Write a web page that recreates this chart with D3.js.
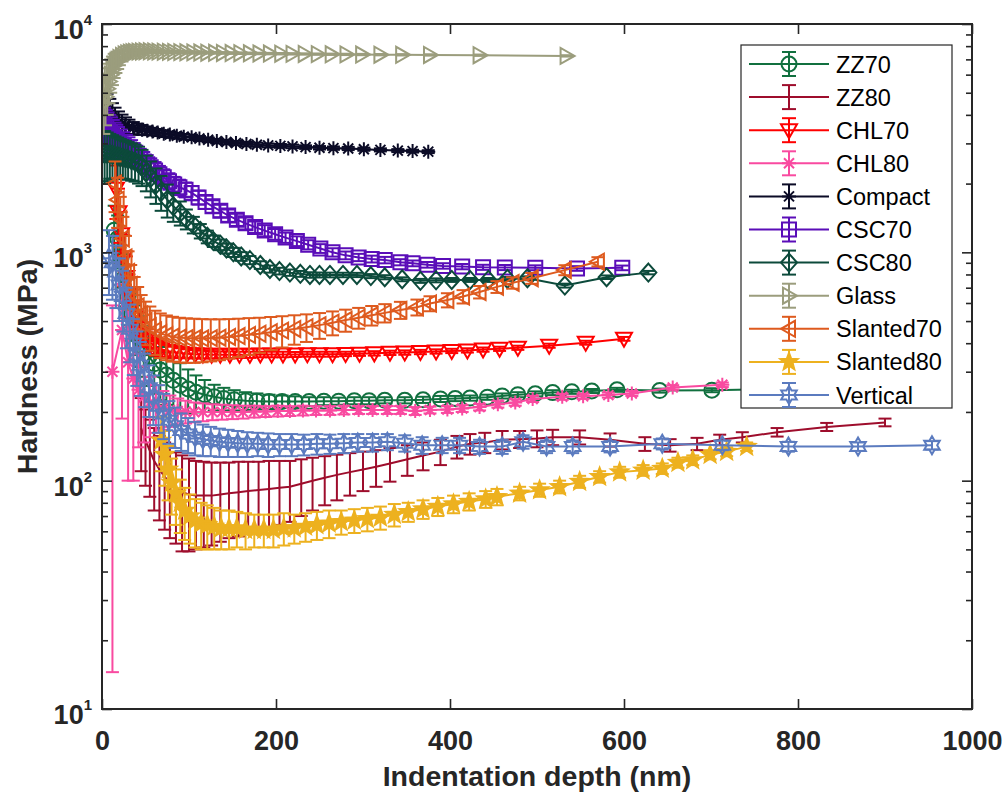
<!DOCTYPE html>
<html><head><meta charset="utf-8">
<script src="https://cdn.jsdelivr.net/npm/d3@7"></script>
<style>body{margin:0;background:#fff} svg{display:block} text{font-family:"Liberation Sans",Arial,sans-serif}</style>
</head><body><svg id="c" width="1008" height="796"></svg>
<script>
// ---------- data ----------
const xTicks = [0, 200, 400, 600, 800, 1000];
const yTicks = [10, 100, 1000, 10000];
const yTickExp = ["1", "2", "3", "4"];
const xLabel = "Indentation depth (nm)";
const yLabel = "Hardness (MPa)";
const seriesNames = ["ZZ70","ZZ80","CHL70","CHL80","Compact","CSC70","CSC80","Glass","Slanted70","Slanted80","Vertical"];
const seriesColors = ["#11703F","#9E0D2C","#FF0000","#F94AA0","#0B0B26","#5A0DB8","#0C4A3B","#9B9D7D","#DE5A1E","#EDB11F","#5B7BBF"];
const seriesMarkers = ["o","none","v","*","*","s","d",">","<","p","h"];

// [depth nm, hardness MPa, error ±MPa]
const ZZ70 = [[14,1250,350],[18,1150,300],[22,950,250],[26,780,200],[30,640,160],[34,540,130],[38,470,115],[43,420,105],[48,380,95],[54,350,90],[60,325,85],[67,305,80],[74,290,75],[82,275,70],[90,262,65],[99,252,55],[108,244,45],[118,238,38],[129,233,30],[140,229,26],[152,226,23],[165,224,20],[178,223,18],[192,222,16],[207,222,14],[222,222,12],[238,222,10],[255,223,9],[272,223,8],[290,224,8],[307,224,8],[325,225,7],[348,225,7],[369,226,7],[389,228,7],[406,229,6],[423,230,6],[443,232,6],[460,235,6],[478,238,6],[498,240,6],[518,243,6],[540,245,5],[563,247,5],[592,250,5],[641,248,5],[701,249,5],[780,252,5]];
const ZZ80 = [[45,170,60],[50,150,55],[55,135,50],[60,122,48],[66,112,45],[72,104,43],[78,98,42],[85,93,40],[92,89,40],[100,87,38],[108,86,36],[117,86,35],[126,86,34],[136,87,33],[146,88,32],[157,89,32],[168,90,31],[180,91,30],[192,92,30],[204,93,29],[216,94,28],[229,97,27],[242,100,26],[256,103,25],[270,106,24],[285,109,23],[300,112,22],[315,115,21],[331,119,20],[351,124,19],[369,129,18],[389,134,17],[408,141,16],[423,145,15],[440,147,15],[460,151,14],[480,152,13],[500,153,13],[518,155,12],[549,155,11],[584,151,10],[624,145,10],[653,143,9],[684,145,9],[710,151,8],[736,155,8],[776,163,7],[833,172,7],[900,180,7]];
const CHL70 = [[16,1900,500],[19,1500,400],[22,1200,300],[25,950,240],[28,780,180],[31,660,140],[34,580,110],[38,520,90],[42,475,70],[46,440,55],[51,415,45],[56,398,38],[62,385,32],[68,376,27],[75,370,23],[82,366,20],[90,362,18],[98,360,16],[107,358,15],[116,357,14],[126,356,13],[136,356,12],[147,356,12],[158,356,11],[170,356,11],[182,357,10],[195,357,10],[208,357,10],[222,357,9],[236,358,9],[250,358,9],[265,358,9],[280,359,8],[296,360,8],[313,361,8],[331,363,8],[348,364,8],[366,366,8],[384,368,8],[402,370,8],[420,372,8],[438,375,8],[457,378,8],[478,382,8],[514,390,8],[556,402,8],[600,418,8]];
const CHL80 = [[12,300,285.5],[23,457,270],[30,330,230],[36,280,180],[42,250,110],[48,232,85],[55,220,65],[62,212,50],[70,207,40],[78,204,32],[87,202,27],[96,201,23],[106,200,20],[116,200,18],[127,200,16],[138,200,15],[150,200,14],[162,200,13],[175,201,12],[188,201,11],[202,202,11],[216,202,10],[231,203,10],[246,203,9],[262,203,9],[278,204,9],[295,204,8],[311,204,8],[328,204,8],[343,204,8],[360,202,8],[377,204,7],[397,205,7],[414,207,7],[434,210,7],[455,216,7],[475,220,7],[495,228,7],[529,233,7],[553,234,6],[582,237,6],[609,241,6],[656,256,6],[713,263,6]];
const Compact = [[3,4300,900],[6,4150,800],[9,4000,700],[12,3900,600],[15,3800,500],[19,3720,420],[23,3650,360],[27,3600,300],[31,3550,260],[36,3500,220],[41,3470,190],[46,3440,170],[52,3410,150],[58,3380,130],[64,3350,120],[71,3310,110],[78,3280,100],[86,3240,95],[94,3210,90],[103,3190,85],[112,3150,80],[122,3110,75],[132,3070,70],[143,3040,68],[154,3010,65],[166,2980,62],[178,2960,60],[191,2940,58],[205,2925,56],[219,2910,54],[234,2890,52],[250,2870,50],[266,2860,48],[283,2850,46],[301,2830,45],[320,2810,44],[340,2790,42],[357,2775,40],[375,2760,40]];
const CSC70 = [[3,3400,900],[5,3350,850],[7,3300,800],[9,3250,750],[11,3200,700],[13,3150,650],[15,3100,600],[17,3060,560],[19,3020,520],[22,2970,480],[25,2920,440],[28,2870,400],[31,2820,370],[34,2760,340],[37,2700,310],[40,2640,290],[44,2570,270],[48,2500,250],[52,2430,235],[56,2360,220],[61,2280,205],[66,2200,190],[71,2130,180],[77,2050,170],[83,1980,160],[89,1930,150],[96,1880,140],[103,1820,130],[111,1740,120],[119,1660,110],[127,1590,100],[136,1520,95],[145,1450,90],[155,1390,85],[165,1340,80],[176,1290,75],[187,1245,70],[199,1200,65],[211,1160,60],[224,1120,55],[237,1080,50],[251,1040,46],[265,1000,42],[280,970,38],[295,950,35],[310,935,32],[325,925,30],[343,905,28],[357,895,26],[374,882,25],[392,872,24],[414,866,23],[438,860,22],[463,858,22],[498,856,21],[546,850,20],[598,855,20]];
const CSC80 = [[3,2700,700],[6,2700,650],[9,2700,600],[12,2680,580],[15,2660,560],[18,2640,540],[21,2620,520],[24,2600,500],[27,2580,490],[30,2560,480],[34,2530,470],[38,2500,460],[42,2450,450],[46,2380,430],[51,2250,400],[56,2120,380],[62,1980,350],[68,1840,320],[75,1700,280],[82,1590,230],[90,1490,180],[97,1400,140],[105,1320,110],[113,1240,90],[121,1170,75],[128,1120,65],[136,1080,58],[143,1040,52],[151,1000,46],[160,960,42],[170,925,38],[182,880,34],[193,845,30],[204,828,28],[216,815,26],[228,805,24],[239,796,22],[250,796,20],[262,796,19],[277,796,18],[293,796,17],[309,787,16],[325,778,16],[345,762,15],[366,750,15],[384,754,15],[402,757,15],[423,757,15],[444,757,15],[466,765,15],[489,770,15],[532,715,14],[580,778,14],[628,815,14]];
const Glass = [[2,4500,1200],[4,4800,1200],[6,5200,1200],[8,5600,1100],[10,6000,1000],[12,6300,900],[14,6600,800],[16,6800,700],[18,6950,600],[20,7100,500],[23,7250,400],[26,7350,330],[29,7420,280],[32,7480,240],[35,7520,210],[38,7550,190],[42,7570,170],[46,7580,150],[50,7590,140],[55,7590,130],[60,7580,120],[65,7570,110],[71,7560,100],[77,7550,95],[83,7540,90],[90,7530,85],[97,7520,80],[105,7510,76],[113,7500,72],[121,7490,70],[130,7480,68],[139,7470,66],[149,7460,64],[159,7450,62],[170,7440,60],[181,7430,58],[193,7420,56],[206,7410,54],[219,7400,52],[233,7390,50],[248,7380,50],[264,7370,50],[281,7360,50],[299,7350,50],[320,7340,50],[345,7330,50],[377,7320,50],[434,7300,50],[534,7250,50]];
const Slanted70 = [[15,2000,500],[18,1700,420],[21,1400,350],[24,1150,280],[27,950,230],[30,820,190],[33,720,160],[37,640,140],[41,580,125],[45,535,115],[50,500,108],[55,475,104],[61,455,100],[67,442,98],[74,433,96],[81,427,95],[89,423,94],[97,421,93],[106,420,92],[115,420,90],[125,421,88],[135,423,86],[146,426,84],[157,430,82],[169,435,80],[181,440,77],[194,447,74],[207,454,71],[221,462,68],[235,470,65],[250,480,62],[265,492,59],[280,505,56],[295,517,54],[310,530,52],[325,543,50],[343,559,48],[362,575,46],[377,597,45],[397,618,44],[415,640,43],[434,670,42],[454,706,42],[472,735,42],[494,770,42],[532,836,42],[570,910,42]];
const Slanted80 = [[68,150,40],[72,130,35],[76,112,30],[80,98,27],[85,88,24],[90,80,21],[95,74,19],[101,70,17],[107,67,16],[114,65,15],[121,64,14],[129,63,13],[137,62,12],[146,62,12],[155,62,11],[165,61,11],[175,61,10],[186,61,10],[197,61,10],[209,62,10],[221,62,9],[234,63,9],[247,64,9],[261,65,9],[275,66,8],[290,67,8],[305,68,8],[320,69,8],[336,71,8],[352,73,7],[369,75,7],[386,77,7],[404,79,7],[422,81,7],[441,83,7],[454,85,7],[480,88,6],[503,91,6],[526,94,6],[549,99,6],[572,104,6],[595,109,6],[622,111,6],[644,113,6],[662,120,6],[679,123,6],[699,130,6],[718,134,6],[741,141,6]];
const Vertical = [[8,950,300],[12,900,280],[16,820,250],[20,720,220],[24,640,190],[28,540,160],[32,460,130],[36,400,110],[40,355,95],[44,320,85],[49,285,75],[54,255,65],[59,232,57],[65,212,50],[71,196,44],[77,184,39],[84,174,35],[91,166,31],[99,160,28],[107,155,26],[116,152,24],[125,150,22],[135,148,21],[145,147,20],[156,146,19],[167,145,18],[179,145,17],[191,144,17],[204,144,16],[218,144,16],[232,144,15],[247,145,15],[262,145,14],[278,146,14],[294,147,13],[311,147,13],[328,148,12],[348,146,12],[368,143,12],[391,143,11],[411,143,11],[434,141,10],[460,141,10],[484,148,10],[511,141,9],[541,141,9],[584,141,8],[644,145,8],[713,143,7],[789,141,7],[869,141,6],[954,143,6]];
const seriesData = [ZZ70, ZZ80, CHL70, CHL80, Compact, CSC70, CSC80, Glass, Slanted70, Slanted80, Vertical];

// ---------- drawing ----------
const svg = d3.select("#c");
const L = 102, R = 972, T = 24, B = 709;
const x = d3.scaleLinear().domain([0, 1000]).range([L, R]);
const y = d3.scaleLog().domain([10, 10000]).range([B, T]);
const axisCol = "#262626";

svg.append("rect").attr("width", 1008).attr("height", 796).attr("fill", "#fff");
svg.append("defs").append("clipPath").attr("id", "clip")
  .append("rect").attr("x", L).attr("y", T).attr("width", R - L).attr("height", B - T);

function markerPath(type) {
  const p = d3.path();
  if (type === "o") { p.moveTo(7.5, 0); p.arc(0, 0, 7.5, 0, 2 * Math.PI); }
  else if (type === "s") { p.rect(-7, -7, 14, 14); }
  else if (type === "d") { p.moveTo(0, -9); p.lineTo(8, 0); p.lineTo(0, 9); p.lineTo(-8, 0); p.closePath(); }
  else if (type === "v") { p.moveTo(-8, -6); p.lineTo(8, -6); p.lineTo(0, 8); p.closePath(); }
  else if (type === ">") { p.moveTo(-6, -8); p.lineTo(-6, 8); p.lineTo(8, 0); p.closePath(); }
  else if (type === "<") { p.moveTo(6, -8); p.lineTo(6, 8); p.lineTo(-8, 0); p.closePath(); }
  else if (type === "*") {
    p.moveTo(0, -7); p.lineTo(0, 7); p.moveTo(-7, 0); p.lineTo(7, 0);
    p.moveTo(-5, -5); p.lineTo(5, 5); p.moveTo(-5, 5); p.lineTo(5, -5);
  }
  else if (type === "p") {
    for (let i = 0; i < 10; i++) {
      const r = i % 2 === 0 ? 9 : 3.8, a = -Math.PI / 2 + i * Math.PI / 5;
      if (i === 0) p.moveTo(r * Math.cos(a), r * Math.sin(a)); else p.lineTo(r * Math.cos(a), r * Math.sin(a));
    }
    p.closePath();
  }
  else if (type === "h") {
    for (let i = 0; i < 12; i++) {
      const r = i % 2 === 0 ? 9 : 5.2, a = -Math.PI / 2 + i * Math.PI / 6;
      if (i === 0) p.moveTo(r * Math.cos(a), r * Math.sin(a)); else p.lineTo(r * Math.cos(a), r * Math.sin(a));
    }
    p.closePath();
  }
  return p.toString();
}

const plot = svg.append("g").attr("clip-path", "url(#clip)");
const capW = 6.5;
seriesData.forEach((data, si) => {
  const col = seriesColors[si];
  const g = plot.append("g");
  const line = d3.line().x(d => x(d[0])).y(d => y(d[1]));
  g.append("path").attr("d", line(data)).attr("fill", "none").attr("stroke", col).attr("stroke-width", 2);
  const eb = g.append("g").attr("stroke", col).attr("stroke-width", 2).attr("fill", "none");
  data.forEach(d => {
    const cx = x(d[0]);
    const lo = y(Math.max(d[1] - d[2], 10.5)), hi = y(d[1] + d[2]);
    eb.append("line").attr("x1", cx).attr("x2", cx).attr("y1", lo).attr("y2", hi);
    eb.append("line").attr("x1", cx - capW).attr("x2", cx + capW).attr("y1", lo).attr("y2", lo);
    eb.append("line").attr("x1", cx - capW).attr("x2", cx + capW).attr("y1", hi).attr("y2", hi);
  });
  const m = seriesMarkers[si];
  if (m !== "none") {
    const mp = markerPath(m);
    g.selectAll("path.mk").data(data).enter().append("path").attr("class", "mk")
      .attr("d", mp).attr("transform", d => `translate(${x(d[0])},${y(d[1])})`)
      .attr("fill", m === "p" ? col : "none").attr("stroke", col).attr("stroke-width", 2)
      .attr("stroke-linejoin", "miter");
  }
});

// axes
function styleAxis(g) {
  g.select(".domain").remove();
  g.selectAll(".tick line").attr("stroke", axisCol).attr("stroke-width", 1.6);
}
const minorY = [];
[10, 100, 1000].forEach(b => { for (let k = 2; k <= 9; k++) minorY.push(b * k); });

const gx = svg.append("g").attr("transform", `translate(0,${B})`)
  .call(d3.axisBottom(x).tickValues(xTicks).tickSize(-10).tickFormat(d3.format("d")));
styleAxis(gx);
gx.selectAll(".tick text").attr("y", 41).attr("dy", null).attr("fill", axisCol)
  .attr("font-size", 27).attr("font-weight", "bold").attr("font-family", "Liberation Sans, Arial, sans-serif");
svg.append("g").attr("transform", `translate(0,${T})`)
  .call(d3.axisTop(x).tickValues(xTicks).tickSize(-10).tickFormat("")).call(styleAxis);
svg.append("g").attr("transform", `translate(${L},0)`)
  .call(d3.axisLeft(y).tickValues(yTicks).tickSize(-10).tickFormat("")).call(styleAxis);
svg.append("g").attr("transform", `translate(${L},0)`)
  .call(d3.axisLeft(y).tickValues(minorY).tickSize(-6).tickFormat("")).call(styleAxis);
svg.append("g").attr("transform", `translate(${R},0)`)
  .call(d3.axisRight(y).tickValues(yTicks).tickSize(-10).tickFormat("")).call(styleAxis);
svg.append("g").attr("transform", `translate(${R},0)`)
  .call(d3.axisRight(y).tickValues(minorY).tickSize(-6).tickFormat("")).call(styleAxis);

// y tick labels with superscripts
yTicks.forEach((v, i) => {
  const t = svg.append("text").attr("x", 92).attr("y", y(v) + 15).attr("text-anchor", "end")
    .attr("fill", axisCol).attr("font-weight", "bold").attr("font-size", 27);
  t.append("tspan").text("10");
  t.append("tspan").attr("dy", -14).attr("font-size", 15).text(yTickExp[i]);
});

// frame
svg.append("rect").attr("x", L).attr("y", T).attr("width", R - L).attr("height", B - T)
  .attr("fill", "none").attr("stroke", axisCol).attr("stroke-width", 2);

// axis titles
svg.append("text").attr("x", (L + R) / 2).attr("y", 786).attr("text-anchor", "middle")
  .attr("fill", axisCol).attr("font-weight", "bold").attr("font-size", 28.5).text(xLabel);
svg.append("text").attr("transform", `translate(36.5,${(T + B) / 2}) rotate(-90)`).attr("text-anchor", "middle")
  .attr("fill", axisCol).attr("font-weight", "bold").attr("font-size", 28.5).text(yLabel);

// legend
const lg = svg.append("g");
lg.append("rect").attr("x", 741).attr("y", 45).attr("width", 211).attr("height", 363)
  .attr("fill", "#fff").attr("stroke", axisCol).attr("stroke-width", 1.2);
seriesNames.forEach((name, i) => {
  const cy = 64 + i * 33.1, col = seriesColors[i];
  const e = lg.append("g").attr("stroke", col).attr("stroke-width", 2).attr("fill", "none");
  e.append("line").attr("x1", 749).attr("x2", 829).attr("y1", cy).attr("y2", cy);
  e.append("line").attr("x1", 789).attr("x2", 789).attr("y1", cy - 12).attr("y2", cy + 12);
  e.append("line").attr("x1", 782).attr("x2", 796).attr("y1", cy - 12).attr("y2", cy - 12);
  e.append("line").attr("x1", 782).attr("x2", 796).attr("y1", cy + 12).attr("y2", cy + 12);
  const m = seriesMarkers[i];
  if (m !== "none") {
    e.append("path").attr("d", markerPath(m)).attr("transform", `translate(789,${cy})`)
      .attr("fill", m === "p" ? col : "none");
  }
  lg.append("text").attr("x", 836).attr("y", cy + 8.5).attr("font-size", 23.5).attr("fill", "#000").text(name);
});
</script></body></html>
